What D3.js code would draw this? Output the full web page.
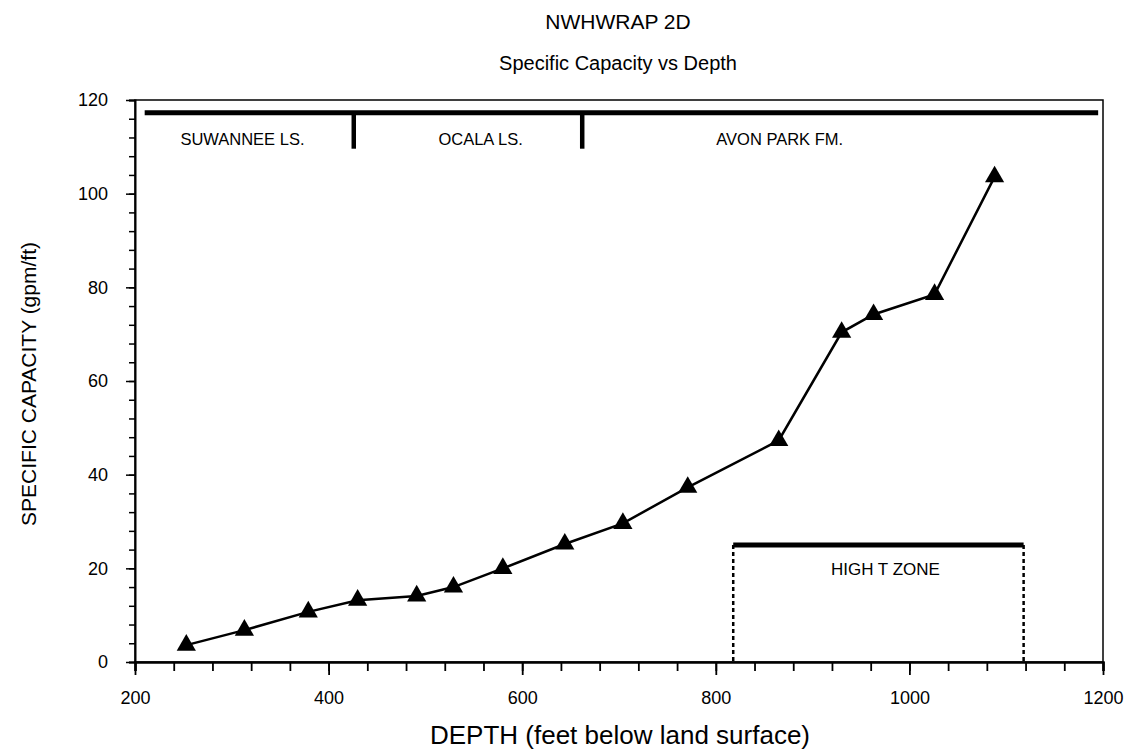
<!DOCTYPE html>
<html><head><meta charset="utf-8">
<script src="https://cdn.jsdelivr.net/npm/d3@7"></script>
<style>body{margin:0;background:#fff}svg{display:block}text{font-family:"Liberation Sans",Arial,sans-serif;fill:#000}</style>
</head><body>
<svg id="c" width="1128" height="752"></svg>
<script>
// Data
const depth = [253, 313, 379, 430, 491, 529, 580, 644, 704, 771, 865, 930, 963, 1026, 1088];
const capacity = [3.6, 6.8, 10.7, 13.2, 14.1, 16.0, 20.0, 25.2, 29.6, 37.3, 47.3, 70.4, 74.2, 78.5, 103.6];
const xTicks = [200, 400, 600, 800, 1000, 1200];
const yTicks = [0, 20, 40, 60, 80, 100, 120];
const formationLine = {from: 210, to: 1195, value: 117.3};
const formationContacts = [426, 662];
const formationLabels = [
  {name: "SUWANNEE LS.", depth: 311},
  {name: "OCALA LS.", depth: 557},
  {name: "AVON PARK FM.", depth: 866}
];
const highTZone = {from: 818, to: 1118, value: 25, label: "HIGH T ZONE"};

const svg = d3.select("#c");
const L = 135, R = 1103, T = 100, B = 662;
const x = d3.scaleLinear().domain([200, 1200]).range([L, R]);
const y = d3.scaleLinear().domain([0, 120]).range([B, T]);

// titles
svg.append("text").attr("x", 618).attr("y", 29).attr("text-anchor", "middle")
  .style("font-size", "21px").text("NWHWRAP 2D");
svg.append("text").attr("x", 618).attr("y", 70).attr("text-anchor", "middle")
  .style("font-size", "20px").text("Specific Capacity vs Depth");

// plot frame
svg.append("rect").attr("x", L).attr("y", T).attr("width", R - L).attr("height", B - T)
  .attr("fill", "none").attr("stroke", "#000").attr("stroke-width", 1.5);

// x axis
const xMinor = d3.range(200, 1201, 40);
const gx = svg.append("g").attr("transform", `translate(0,${B})`);
gx.call(d3.axisBottom(x).tickValues(xMinor).tickSize(9).tickFormat(""))
  .call(g => g.select(".domain").attr("stroke-width", 2.5));
gx.selectAll(".tick line").attr("stroke-width", 1.8);
const gx2 = svg.append("g").attr("transform", `translate(0,${B})`);
gx2.call(d3.axisBottom(x).tickValues(xTicks).tickSize(13).tickPadding(16).tickFormat(d3.format("d")))
  .call(g => g.select(".domain").remove());
gx2.selectAll(".tick line").attr("stroke-width", 1.8);
gx2.selectAll("text").style("font-size", "18px").style("font-family", "Liberation Sans, Arial, sans-serif");

// y axis
const yMinor = d3.range(0, 121, 4);
const gy = svg.append("g").attr("transform", `translate(${L},0)`);
gy.call(d3.axisLeft(y).tickValues(yMinor).tickSize(6).tickFormat(""))
  .call(g => g.select(".domain").attr("stroke-width", 2));
gy.selectAll(".tick line").attr("stroke-width", 1.5);
const gy2 = svg.append("g").attr("transform", `translate(${L},0)`);
gy2.call(d3.axisLeft(y).tickValues(yTicks).tickSize(9).tickPadding(18).tickFormat(d3.format("d")))
  .call(g => g.select(".domain").remove());
gy2.selectAll(".tick line").attr("stroke-width", 1.5);
gy2.selectAll("text").style("font-size", "18px").style("font-family", "Liberation Sans, Arial, sans-serif");

// axis titles
svg.append("text").attr("x", 620).attr("y", 744).attr("text-anchor", "middle")
  .style("font-size", "26px").text("DEPTH (feet below land surface)");
svg.append("text").attr("transform", `translate(36,${(T + B) / 2 + 3}) rotate(-90)`)
  .attr("text-anchor", "middle").style("font-size", "21px").text("SPECIFIC CAPACITY (gpm/ft)");

// formations
svg.append("line").attr("x1", x(formationLine.from)).attr("x2", x(formationLine.to))
  .attr("y1", y(formationLine.value)).attr("y2", y(formationLine.value))
  .attr("stroke", "#000").attr("stroke-width", 5);
svg.selectAll(".contact").data(formationContacts).join("line")
  .attr("x1", d => x(d)).attr("x2", d => x(d))
  .attr("y1", y(formationLine.value)).attr("y2", y(109.6))
  .attr("stroke", "#000").attr("stroke-width", 4.5);
svg.selectAll(".flabel").data(formationLabels).join("text")
  .attr("x", d => x(d.depth)).attr("y", y(109.6) - 4).attr("text-anchor", "middle")
  .style("font-size", "16.5px").text(d => d.name);

// high T zone
svg.append("line").attr("x1", x(highTZone.from)).attr("x2", x(highTZone.to))
  .attr("y1", y(highTZone.value)).attr("y2", y(highTZone.value))
  .attr("stroke", "#000").attr("stroke-width", 5);
svg.selectAll(".zv").data([highTZone.from, highTZone.to]).join("line")
  .attr("x1", d => x(d)).attr("x2", d => x(d))
  .attr("y1", y(highTZone.value)).attr("y2", y(0))
  .attr("stroke", "#000").attr("stroke-width", 2.5).attr("stroke-dasharray", "4,3");
svg.append("text").attr("x", x((highTZone.from + highTZone.to) / 2) + 7).attr("y", y(highTZone.value) + 30)
  .attr("text-anchor", "middle").style("font-size", "17px").text(highTZone.label);

// data line
const pts = depth.map((d, i) => [d, capacity[i]]);
svg.append("path").datum(pts)
  .attr("d", d3.line().x(d => x(d[0])).y(d => y(d[1])))
  .attr("fill", "none").attr("stroke", "#000").attr("stroke-width", 2.5);
svg.selectAll(".pt").data(pts).join("path")
  .attr("transform", d => `translate(${x(d[0])},${y(d[1])})`)
  .attr("d", d3.symbol().type(d3.symbolTriangle).size(160))
  .attr("fill", "#000");
</script>
</body></html>
